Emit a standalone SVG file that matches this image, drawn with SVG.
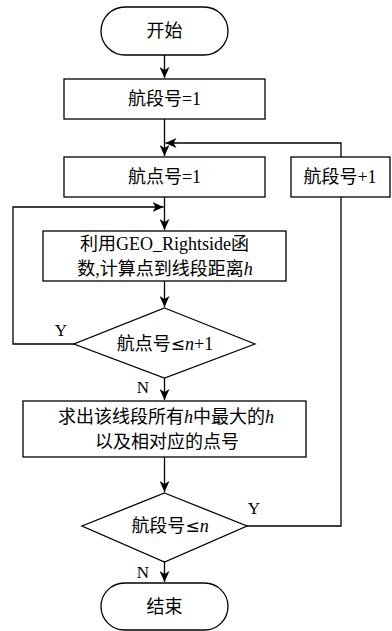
<svg xmlns="http://www.w3.org/2000/svg" width="392" height="631" viewBox="0 0 392 631">
<defs>
<marker id="ah" markerWidth="12" markerHeight="10" refX="11" refY="5" orient="auto" markerUnits="userSpaceOnUse">
<path d="M0,0 L11,5 L0,10 L3,5 Z" fill="#000"/>
</marker>
<style>
.s{fill:#fff;stroke:#000;stroke-width:1.3}
.c{fill:none;stroke:#000;stroke-width:1.3}
.t{font-family:"Liberation Serif","Noto Sans CJK SC",serif;font-size:18px;fill:#000;text-anchor:middle}
.l{font-family:"Liberation Serif",serif;font-size:17px;fill:#000;text-anchor:middle}
.i{font-style:italic}
.le{font-family:"DejaVu Sans",sans-serif;font-size:17px}
</style>
</defs>
<rect width="392" height="631" fill="#fff"/>
<g id="connectors">
<path class="c" d="M164.5,55 V78" marker-end="url(#ah)"/>
<path class="c" d="M164.5,119 V156" marker-end="url(#ah)"/>
<path class="c" d="M341,157 V143 H165.5" marker-end="url(#ah)"/>
<path class="c" d="M164.5,197 V230" marker-end="url(#ah)"/>
<path class="c" d="M74,344 H13 V207 H163.5" marker-end="url(#ah)"/>
<path class="c" d="M164.5,281 V307" marker-end="url(#ah)"/>
<path class="c" d="M164.5,378 V400" marker-end="url(#ah)"/>
<path class="c" d="M164.5,457 V492" marker-end="url(#ah)"/>
<path class="c" d="M247,526 H341 V197"/>
<path class="c" d="M164.5,562 V582" marker-end="url(#ah)"/>
<text class="l" x="61" y="336">Y</text>
<text class="l" x="143" y="393">N</text>
<text class="l" x="254" y="514">Y</text>
<text class="l" x="143" y="578">N</text>
</g>
<g id="start">
<rect class="s" x="101" y="7" width="127" height="48" rx="24"/>
<text class="t" x="164.5" y="37">开始</text>
</g>
<g id="seg1">
<rect class="s" x="64" y="79" width="201" height="40"/>
<text class="t" x="164.5" y="105">航段号=1</text>
</g>
<g id="pt1">
<rect class="s" x="64" y="157" width="201" height="40"/>
<text class="t" x="164.5" y="183">航点号=1</text>
</g>
<g id="segInc">
<rect class="s" x="291" y="157" width="99" height="40"/>
<text class="t" x="340" y="183">航段号+1</text>
</g>
<g id="calc">
<rect class="s" x="43" y="231" width="243" height="50"/>
<text class="t" x="164.5" y="250">利用GEO_Rightside函</text>
<text class="t" x="165" y="275">数,计算点到线段距离<tspan class="i">h</tspan></text>
</g>
<g id="cond1">
<path class="s" d="M164.5,308 L255,344 L164.5,378 L74,344 Z"/>
<text class="t" x="165" y="350">航点号<tspan class="le">≤</tspan><tspan class="i">n</tspan>+1</text>
</g>
<g id="maxh">
<rect class="s" x="23" y="401" width="283" height="56"/>
<text class="t" x="166" y="423">求出该线段所有<tspan class="i">h</tspan>中最大的<tspan class="i">h</tspan></text>
<text class="t" x="167" y="448">以及相对应的点号</text>
</g>
<g id="cond2">
<path class="s" d="M164.5,493 L247,526 L164.5,562 L82,526 Z"/>
<text class="t" x="170" y="532">航段号<tspan class="le">≤</tspan><tspan class="i">n</tspan></text>
</g>
<g id="end">
<rect class="s" x="101" y="583" width="127" height="47" rx="23.5"/>
<text class="t" x="164.5" y="613">结束</text>
</g>
</svg>
